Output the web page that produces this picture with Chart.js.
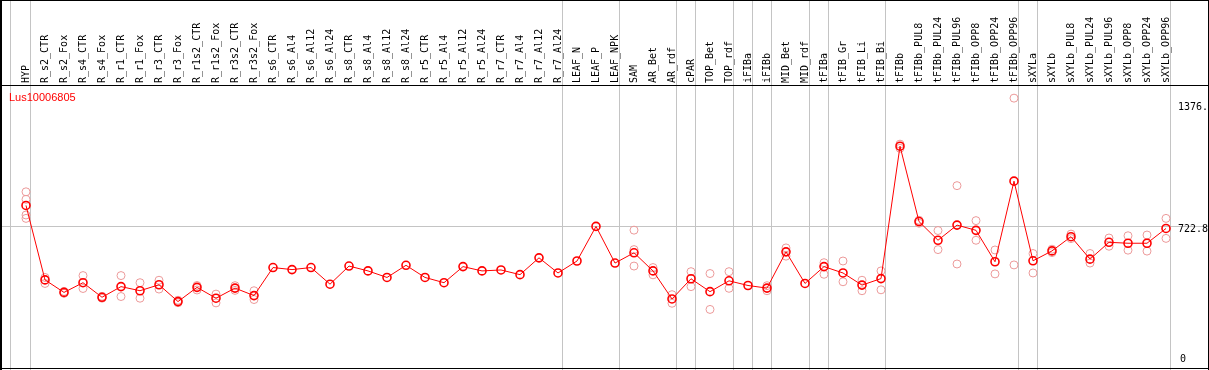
<!DOCTYPE html>
<html>
<head>
<meta charset="utf-8">
<script src="https://cdn.jsdelivr.net/npm/chart.js@4.4.1/dist/chart.umd.min.js"></script>
<style>
  html, body { margin: 0; padding: 0; background: #fff; }
  #wrap { width: 1209px; height: 370px; }
</style>
</head>
<body>
<div id="wrap"><canvas id="chart" width="1209" height="370"></canvas></div>
<script>
const geneName = 'Lus10006805';

const categories = [
  'HYP', 'R_s2_CTR', 'R_s2_Fox', 'R_s4_CTR', 'R_s4_Fox', 'R_r1_CTR', 'R_r1_Fox', 'R_r3_CTR', 'R_r3_Fox',
  'R_r1s2_CTR', 'R_r1s2_Fox', 'R_r3s2_CTR', 'R_r3s2_Fox', 'R_s6_CTR', 'R_s6_Al4', 'R_s6_Al12', 'R_s6_Al24',
  'R_s8_CTR', 'R_s8_Al4', 'R_s8_Al12', 'R_s8_Al24', 'R_r5_CTR', 'R_r5_Al4', 'R_r5_Al12', 'R_r5_Al24',
  'R_r7_CTR', 'R_r7_Al4', 'R_r7_Al12', 'R_r7_Al24', 'LEAF_N', 'LEAF_P', 'LEAF_NPK', 'SAM', 'AR_Bet', 'AR_rdf',
  'cPAR', 'TOP_Bet', 'TOP_rdf', 'iFIBa', 'iFIBb', 'MID_Bet', 'MID_rdf', 'tFIBa', 'tFIB_Gr', 'tFIB_Li', 'tFIB_Bi',
  'tFIBb', 'tFIBb_PUL8', 'tFIBb_PUL24', 'tFIBb_PUL96', 'tFIBb_OPP8', 'tFIBb_OPP24', 'tFIBb_OPP96',
  'sXYLa', 'sXYLb', 'sXYLb_PUL8', 'sXYLb_PUL24', 'sXYLb_PUL96', 'sXYLb_OPP8', 'sXYLb_OPP24', 'sXYLb_OPP96'
];

// mean expression per sample
const means = [
  832, 434, 367, 419, 341, 398, 376, 408, 318,
  394, 336, 390, 350, 500, 489, 500, 411,
  508, 482, 447, 512, 447, 419, 505, 482,
  487, 462, 552, 471, 535, 720, 524, 579, 482, 332,
  440, 371, 429, 404, 390, 584, 415, 505, 471, 406, 441,
  1149, 746, 646, 727, 699, 531, 962,
  536, 589, 665, 545, 635, 630, 630, 709
];

// individual replicates per sample
const replicates = [
  [905, 865, 781, 763], [447, 415], [372, 362], [457, 388], [346, 336], [457, 345], [419, 336], [432, 385], [325, 312],
  [404, 380], [358, 311], [403, 378], [376, 329], [], [], [], [],
  [], [], [], [], [], [], [], [],
  [], [], [], [], [], [], [], [700, 596, 508], [500, 461], [355, 309],
  [478, 398], [468, 276], [478, 389], [], [403, 376], [605, 561], [], [526, 464], [535, 424], [432, 376], [482, 381],
  [1160, 1138], [753, 737], [698, 596], [938, 519], [751, 646], [594, 466], [1406, 514],
  [575, 471], [598, 580], [679, 655], [575, 524], [658, 614], [670, 593], [674, 588], [763, 656]
];

// a separator is drawn before the first sample and after each of these
const groupEnds = ['HYP', 'R_r7_Al24', 'LEAF_NPK', 'AR_rdf', 'cPAR', 'TOP_rdf', 'iFIBa', 'iFIBb',
  'MID_rdf', 'tFIBa', 'tFIB_Bi', 'tFIBb_OPP96', 'sXYLa', 'sXYLb_OPP96'];

const yTicks = [1376, 722.8, 0];
const yTickLabels = ['1376.', '722.8', '0'];
const refLine = 722.8;

const replicatePoints = [];
replicates.forEach((vals, i) => {
  vals.forEach(v => replicatePoints.push({ x: categories[i], y: v }));
});

const framePlugin = {
  id: 'frame',
  beforeDatasetsDraw(chart) {
    const { ctx, scales: { x, y } } = chart;
    const W = chart.width, H = chart.height;
    const step = x.width / categories.length;
    ctx.save();
    ctx.fillStyle = '#c4c4c4';
    ctx.fillRect(0, Math.round(y.getPixelForValue(refLine)), W, 1);
    // leading separator, then one after each group
    ctx.fillRect(Math.floor(x.left - step / 2 + 3), 0, 1, H);
    groupEnds.forEach(n => {
      const i = categories.indexOf(n);
      ctx.fillRect(Math.floor(x.left + (i + 0.5) * step + 4), 0, 1, H);
    });
    ctx.restore();
  },
  afterDraw(chart) {
    const { ctx, scales: { x, y }, chartArea } = chart;
    const W = chart.width, H = chart.height;
    ctx.save();
    // outer frame and header separator
    ctx.fillStyle = '#000';
    ctx.fillRect(0, 0, W, 1);
    ctx.fillRect(0, 85, W, 1);
    ctx.fillRect(0, H - 2, W, 1);
    ctx.fillRect(W - 1, 0, 1, H);
    ctx.fillRect(0, 0, 2, H);

    // sample names, rotated
    ctx.font = '10px "DejaVu Sans Mono"';
    ctx.textAlign = 'left';
    ctx.textBaseline = 'middle';
    categories.forEach((name, i) => {
      const px = Math.round(x.getPixelForValue(i)) + 0.5;
      ctx.save();
      ctx.translate(px, 83);
      ctx.rotate(-Math.PI / 2);
      ctx.fillText(name, 0, 0);
      ctx.restore();
    });

    // value labels on the right
    ctx.textBaseline = 'top';
    yTicks.forEach((v, i) => {
      const ty = Math.min(y.getPixelForValue(v) - 1, chartArea.bottom - 10);
      const tx = yTickLabels[i].length === 1 ? 1180 : 1178;
      ctx.fillText(yTickLabels[i], tx, ty);
    });

    // gene name
    ctx.fillStyle = '#ff0000';
    ctx.font = '11px "Liberation Sans"';
    ctx.fillText(geneName, 9, 92);
    ctx.restore();
  }
};

new Chart(document.getElementById('chart'), {
  type: 'line',
  data: {
    labels: categories,
    datasets: [
      {
        label: 'mean',
        data: means,
        borderColor: '#ff0000',
        borderWidth: 1,
        pointRadius: 4,
        pointBorderWidth: 1.6,
        pointBorderColor: '#ff0000',
        pointBackgroundColor: 'rgba(0,0,0,0)',
        tension: 0,
        clip: false
      },
      {
        label: 'replicates',
        data: replicatePoints,
        showLine: false,
        pointRadius: 4,
        pointBorderWidth: 1,
        pointBorderColor: '#ec9a9a',
        pointBackgroundColor: 'rgba(0,0,0,0)',
        clip: false
      }
    ]
  },
  options: {
    responsive: false,
    devicePixelRatio: 1,
    animation: false,
    layout: { padding: { left: 16.5, right: 33.5, top: 86, bottom: 2 } },
    plugins: {
      legend: { display: false },
      tooltip: { enabled: false }
    },
    scales: {
      x: { type: 'category', offset: true, display: false },
      y: { type: 'linear', min: -18, max: 1471, display: false }
    }
  },
  plugins: [framePlugin]
});
</script>
</body>
</html>
